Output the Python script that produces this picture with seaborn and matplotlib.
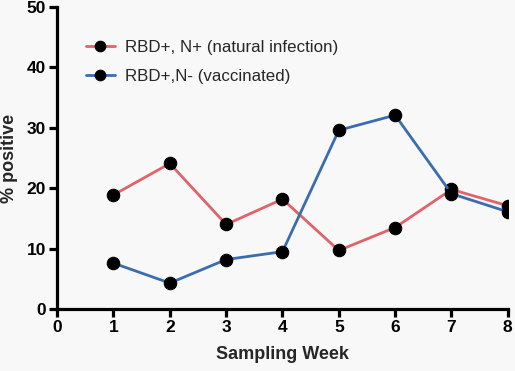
import seaborn as sns
import numpy as np
import pandas as pd
import matplotlib
matplotlib.use('Agg')
import matplotlib.pyplot as plt

weeks = [1, 2, 3, 4, 5, 6, 7, 8]
natural = [18.9, 24.1, 14.0, 18.2, 9.7, 13.5, 19.8, 17.1]
vaccinated = [7.6, 4.3, 8.2, 9.5, 29.6, 32.1, 19.1, 16.1]
labels = ['RBD+, N+ (natural infection)', 'RBD+,N- (vaccinated)']
colors = ['#e0636b', '#3a6db0']

sns.set_style('ticks')
plt.rcParams['font.family'] = ['Liberation Sans', 'DejaVu Sans']

df = pd.DataFrame({
  'week': weeks * 2,
  'pct': natural + vaccinated,
  'group': [labels[0]] * len(weeks) + [labels[1]] * len(weeks),
})

fig = plt.figure(figsize=(5.15, 3.71), dpi=100, facecolor='#f8f8f8')
ax = fig.add_axes([0.111, 0.167, 0.875, 0.814])
ax.set_facecolor('#f8f8f8')

sns.lineplot(data=df, x='week', y='pct', hue='group', palette=colors,
             marker='o', markersize=9, markerfacecolor='k', markeredgecolor='k',
             linewidth=2.0, ax=ax)

ax.set_xlim(0, 8)
ax.set_ylim(0, 50)
ax.set_xticks(range(0, 9))
ax.set_yticks(range(0, 51, 10))
for s in ['top', 'right']:
  ax.spines[s].set_visible(False)
for s in ['left', 'bottom']:
  ax.spines[s].set_linewidth(2.3)
  ax.spines[s].set_color('k')
ax.tick_params(width=2.3, length=6, labelsize=12.5, colors='k', pad=2)
for t in ax.get_xticklabels() + ax.get_yticklabels():
  t.set_fontweight('bold')
ax.set_xlabel('Sampling Week', fontsize=13, fontweight='bold', labelpad=8)
ax.set_ylabel('% positive', fontsize=13, fontweight='bold', labelpad=6)

leg = ax.legend(loc='upper left', bbox_to_anchor=(0.03, 0.94), frameon=False,
                fontsize=12.2, handlelength=1.7, labelspacing=0.8,
                handletextpad=0.6, markerscale=0.85)
leg.set_title(None)

fig.savefig('out.png', dpi=100, facecolor=fig.get_facecolor())
